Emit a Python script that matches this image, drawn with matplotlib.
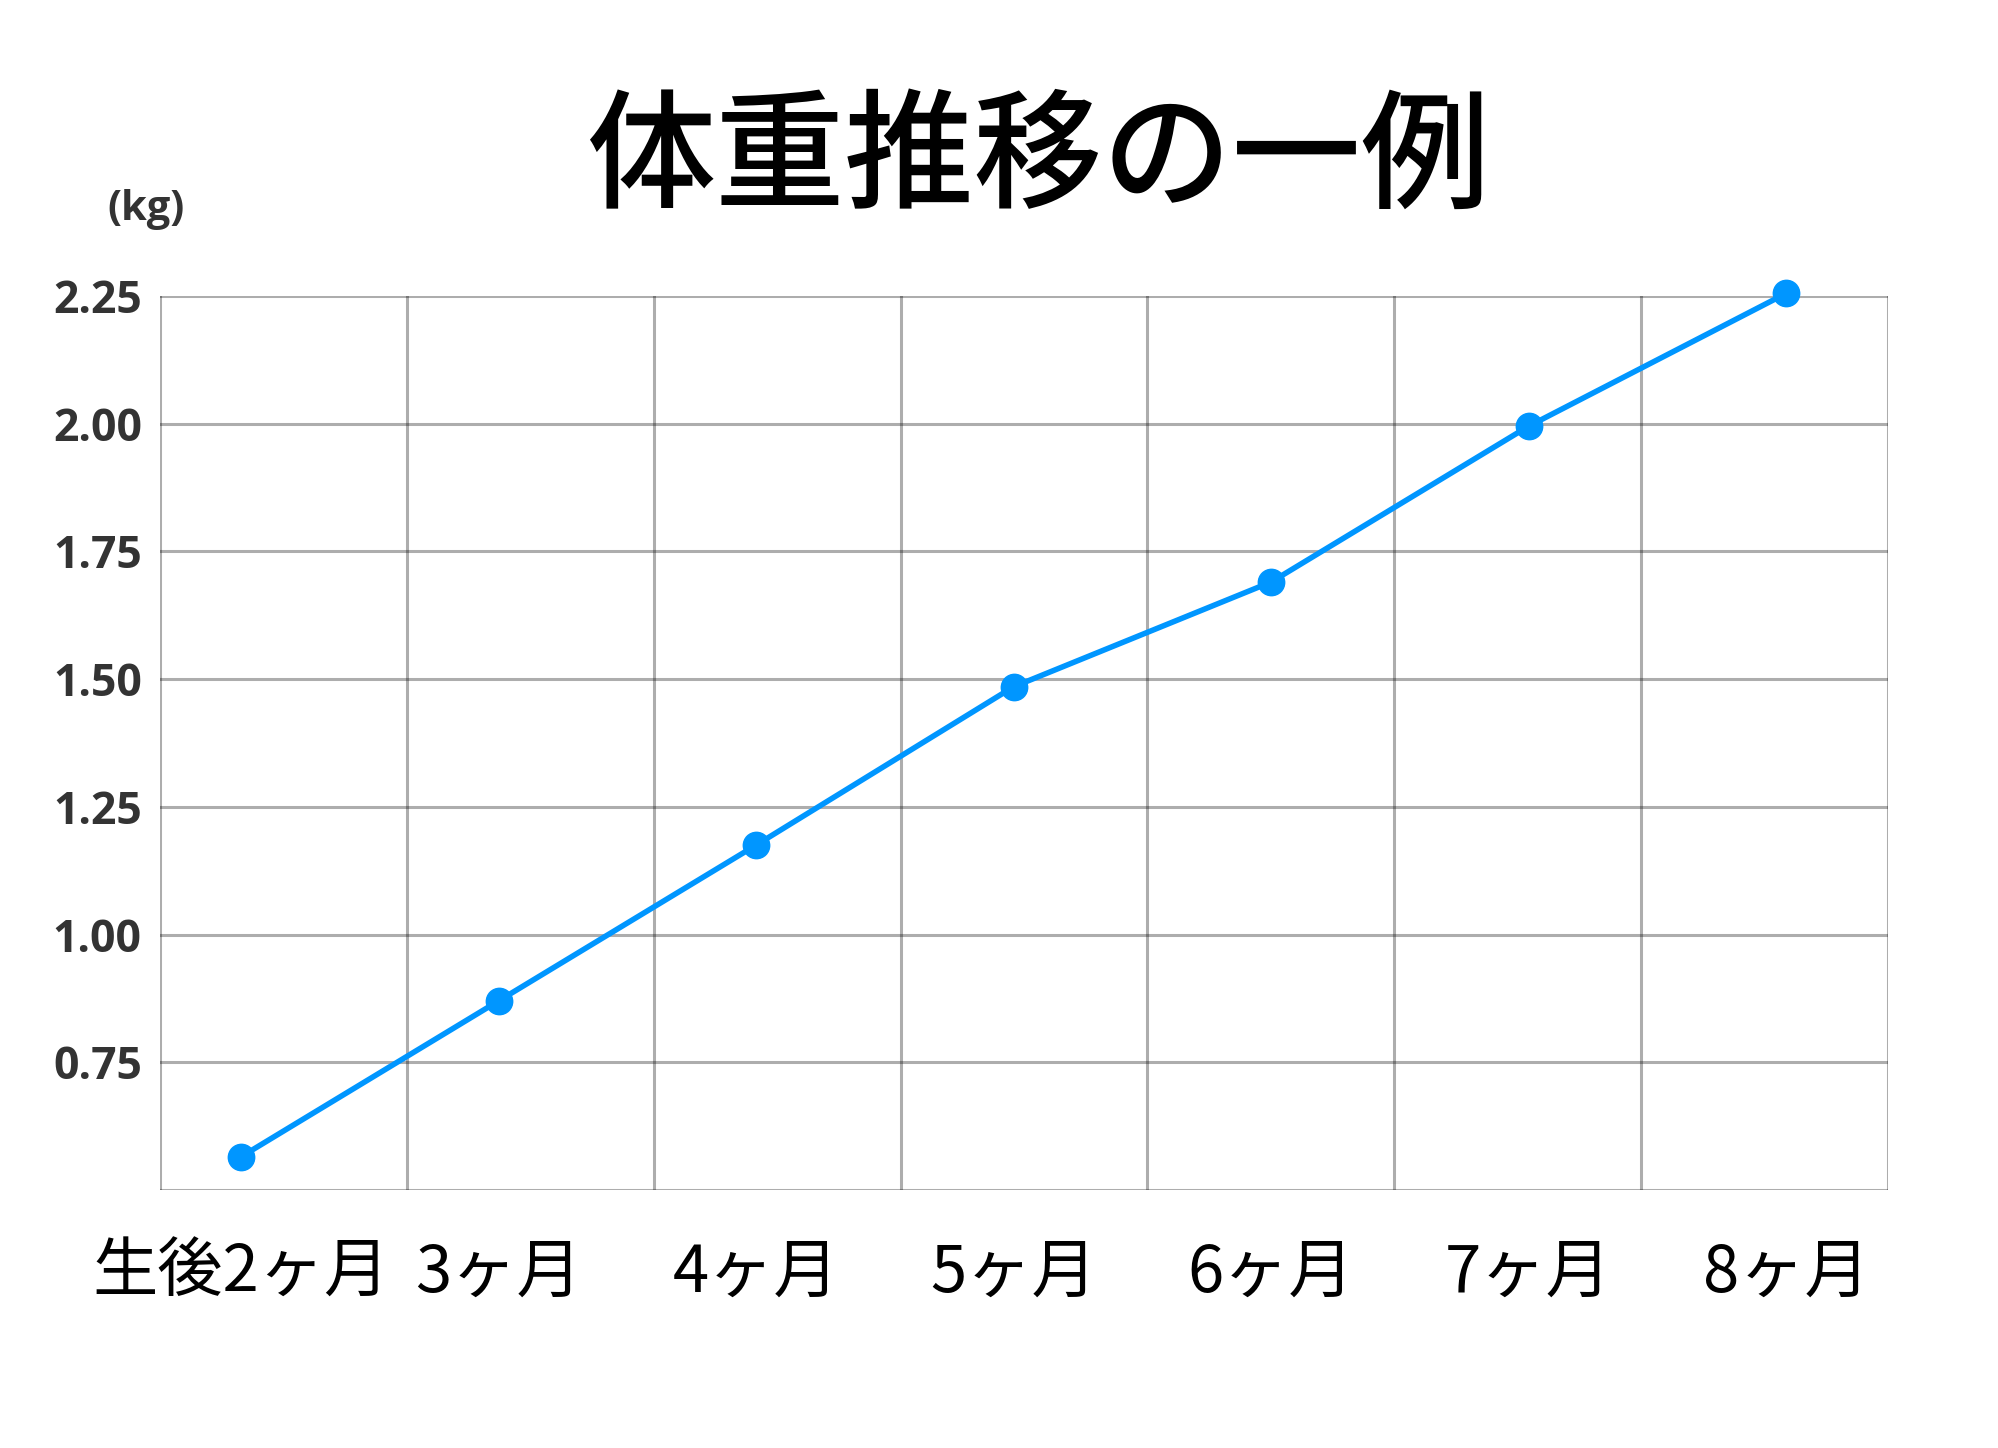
import numpy as np
import matplotlib
matplotlib.use("Agg")
import matplotlib.pyplot as plt

plt.rcParams['font.family'] = ['Noto Sans CJK JP', 'DejaVu Sans']

months = ["生後2ヶ月", "3ヶ月", "4ヶ月", "5ヶ月", "6ヶ月", "7ヶ月", "8ヶ月"]
weights = [0.565, 0.87, 1.175, 1.485, 1.69, 1.995, 2.255]
y_ticks = [0.5, 0.75, 1.00, 1.25, 1.50, 1.75, 2.00, 2.25]
y_labels = ["", "0.75", "1.00", "1.25", "1.50", "1.75", "2.00", "2.25"]

fig = plt.figure(figsize=(19.99, 14.48), dpi=100)
ax = fig.add_axes([0.080, 0.1782, 0.8645, 0.6174])

x = np.arange(len(months))
ax.plot(x, weights, color="#0096ff", linewidth=4, marker="o", markersize=19,
        zorder=3, clip_on=False)

x0, x1 = -0.315, 6.396
ax.set_xlim(x0, x1)
ax.set_ylim(0.5, 2.25)

# vertical grid lines do not line up with the points
ax.set_xticks(np.linspace(x0, x1, 8))
ax.set_xticklabels([""] * 8)
ax.set_xticks(x, months, minor=True)
ax.tick_params(axis="x", which="both", length=0)
ax.tick_params(axis="x", which="minor", labelsize=47, pad=36, labelcolor="black")

ax.set_yticks(y_ticks, y_labels)
ax.tick_params(axis="y", length=0, pad=13, labelsize=32, labelcolor="#333333")
for lab in ax.get_yticklabels():
    lab.set_fontfamily(["Open Sans", "DejaVu Sans"])
    lab.set_fontweight("bold")

ax.grid(True, which="major", color="black", alpha=0.32, linewidth=2.2)
for s in ax.spines.values():
    s.set_visible(False)

fig.text(0.073, 0.855, "(kg)", ha="center", va="center", fontsize=30,
         fontweight="bold", color="#333333", family=["Open Sans", "DejaVu Sans"])
fig.text(0.519, 0.889, "体重推移の一例", ha="center", va="center", fontsize=93,
         fontweight="medium", color="black")

fig.savefig("out.png", dpi=100)
plt.close()
